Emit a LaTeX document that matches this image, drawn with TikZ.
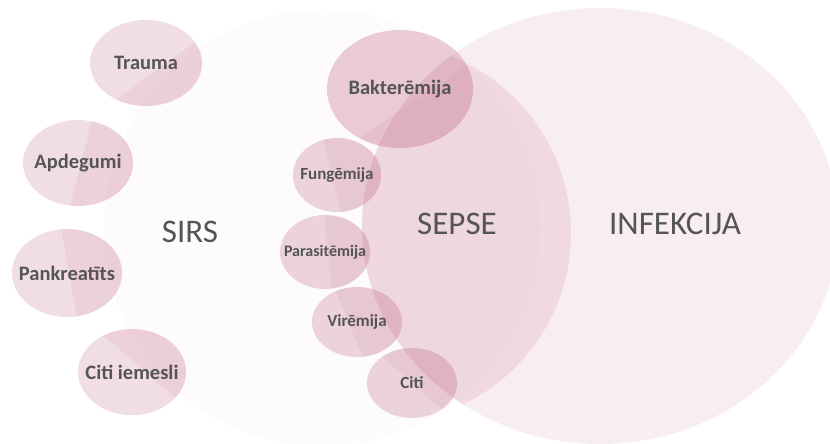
\documentclass[tikz,border=0pt]{standalone}
\usepackage{fontspec}
\setmainfont{Carlito}
\usetikzlibrary{calc}
\definecolor{mauve}{RGB}{208,138,158}
\definecolor{sirsbg}{RGB}{253,251,252}
\definecolor{txt}{RGB}{85,85,85}
\tikzset{
  blobfill/.style={fill=mauve},
  blobdark/.style={fill=mauve, fill opacity=0.15},
  lbl/.style={text=txt, font=\bfseries, inner sep=0pt},
  big/.style={text=txt, font=\fontsize{33}{36}\selectfont, inner sep=0pt},
}
% #1 name, #2 x, #3 y, #4 rx, #5 ry, #6 split angle, #7 split offset, #8 opacity, #9 text
\newcommand\blob[9]{%
  \path[blobfill, fill opacity=#8, path picture={%
      \fill[blobdark] ($(#2,#3)+(#6:#7)$) ++(#6+90:200) -- ++(#6:200) -- ++(#6-90:400) -- ++(#6+180:200) -- cycle;}]
    (#2,#3) ellipse [x radius=#4, y radius=#5];
  \node[lbl] (#1) at (#2,#3) {#9};}
\newcommand\fsA{\fontsize{20.5}{22}\selectfont}
\newcommand\fsB{\fontsize{17}{19}\selectfont}
\newcommand\fsC{\fontsize{16}{18}\selectfont}
\begin{document}
\begin{tikzpicture}[x=1pt,y=-1pt]
\fill[white] (0,0) rectangle (830,444);
\useasboundingbox (0,0) rectangle (830,444);
% SIRS (faint)
\fill[sirsbg] (322,228) circle [radius=218];
% INFEKCIJA
\fill[mauve, fill opacity=0.14] (600,226) ellipse [x radius=238, y radius=218];
% SEPSE (overlap)
\begin{scope}
  \clip (600,226) ellipse [x radius=238, y radius=218];
  \fill[mauve, fill opacity=0.2] (381,233) circle [radius=190];
\end{scope}
% causes
\blob{trauma}{146}{63}{56}{43}{54}{12}{0.28}{\fsA Trauma}
\blob{apdegumi}{78}{163}{55}{43}{14}{3}{0.28}{\fsA Apdegumi}
\blob{pankreatits}{67}{273}{55}{44}{-10}{2}{0.28}{\fsA Pankreatīts}
\blob{citiiemesli}{132}{372}{54}{43}{-49}{9}{0.28}{\fsA Citi iemesli}
\blob{bakteremija}{400}{89}{73}{59}{56}{18}{0.42}{\fsA Bakterēmija}
\blob{fungemija}{337}{175}{44}{37}{-14}{-5}{0.36}{\fsB Fungēmija}
\blob{parasitemija}{325}{252}{45}{37}{-6}{3}{0.36}{\fsC Parasitēmija}
\blob{viremija}{357}{322}{45}{35}{-22}{-8}{0.36}{\fsB Virēmija}
\blob{citi}{412}{383}{45}{35}{-49}{0}{0.36}{\fsB Citi}
% main labels
\node[big] (sirs) at (190,232) {SIRS};
\node[big] (sepse) at (457,224) {SEPSE};
\node[big] (infekcija) at (675,224) {INFEKCIJA};
\end{tikzpicture}
\end{document}
